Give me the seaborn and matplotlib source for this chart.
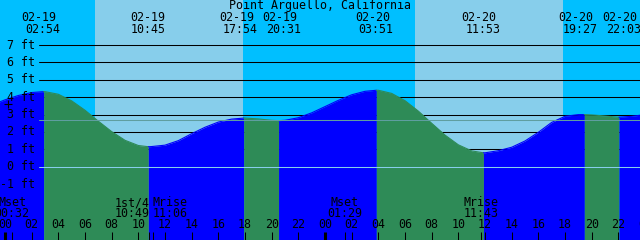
import numpy as np
import pandas as pd
import matplotlib
matplotlib.use("Agg")
import matplotlib.pyplot as plt
import matplotlib.transforms as mtransforms
import seaborn as sns

# ---------------- data ----------------
station = "Point Arguello, California"

# hours since 02-19 00:00, tide height in feet
hours = list(range(-1, 49))
tide_ft = [3.55, 3.85, 4.10, 4.27, 4.32, 4.17, 3.79, 3.25, 2.62, 2.02,
           1.52, 1.22, 1.16, 1.24, 1.50, 1.90, 2.27, 2.57, 2.74, 2.80,
           2.75, 2.67, 2.67, 2.82, 3.10, 3.46, 3.82, 4.14, 4.34, 4.40,
           4.22, 3.80, 3.20, 2.50, 1.82, 1.26, 0.91, 0.80, 0.92, 1.12,
           1.48, 1.98, 2.55, 2.90, 3.00, 2.98, 2.92, 2.85, 2.90, 3.00]

hilo_hours = [2.9, 10.75, 17.9, 20.517, 27.85, 35.883, 43.45, 46.05]
hilo_ft = [4.32, 1.15, 2.80, 2.65, 4.40, 0.80, 3.00, 2.85]
hilo_kind = ["H", "L", "H", "L", "H", "L", "H", "L"]
hilo_date = ["02-19", "02-19", "02-19", "02-19", "02-20", "02-20", "02-20", "02-20"]
hilo_time = ["02:54", "10:45", "17:54", "20:31", "03:51", "11:53", "19:27", "22:03"]

sunrise_hours = [6.75, 30.75]
sunset_hours = [17.87, 41.85]

moon_hours = [0.533, 10.817, 11.1, 25.483, 35.717]
moon_names = ["Mset", "1st/4", "Mrise", "Mset", "Mrise"]
moon_times = ["00:32", "10:49", "11:06", "01:29", "11:43"]

levels_ft = [7, 6, 5, 4, 3, 2, 1, 0, -1]
level_labels = ["7 ft", "6 ft", "5 ft", "4 ft", "3 ft", "2 ft", "1 ft", "0 ft", "-1 ft"]
msl_ft = 2.69

tick_hours = list(range(0, 49, 2))
tick_labels = ["%02d" % (h % 24) for h in tick_hours]

# ---------------- style ----------------
NIGHT = "#00BFFF"
DAY = "#87CEEB"
FLOOD = "#0000FF"
EBB = "#2E8B57"
MSL_C = "#5F9EA0"
DATUM_C = "#87CEEB"
FONT = dict(family="DejaVu Sans Mono", size=8.4, color="black")

W, H = 640, 240
XMIN, XMAX = -0.375, 47.625
YMIN, YMAX = -4.22, 9.597

sns.set_style("white")
fig = plt.figure(figsize=(6.4, 2.4), dpi=100)
ax = fig.add_axes([0, 0, 1, 1])
ax.set_xlim(XMIN, XMAX)
ax.set_ylim(YMIN, YMAX)
ax.axis("off")

def fy(ypx):
    return 1 - ypx / H

def fx(xpx):
    return xpx / W

# background night/day
ax.axvspan(XMIN, XMAX, color=NIGHT, lw=0, zorder=0)
for sr, ss in zip(sunrise_hours, sunset_hours):
    ax.axvspan(sr, ss, color=DAY, lw=0, zorder=0)

# level lines (behind the water)
for lv in levels_ft:
    if lv > 0:
        ax.axhline(lv, xmin=fx(39), xmax=1, color="black", lw=0.75, zorder=1)

# tide fill, coloured by flood / ebb
df = pd.DataFrame({"h": hours + hilo_hours, "ft": tide_ft + hilo_ft}).sort_values("h")
bounds = [hours[0]] + hilo_hours + [hours[-1]]
for i in range(len(bounds) - 1):
    a, b = bounds[i], bounds[i + 1]
    seg = df[(df.h >= a) & (df.h <= b)]
    rising = (i < len(hilo_kind) and hilo_kind[i] == "H") or i == len(hilo_kind)
    c = FLOOD if rising else EBB
    ax.fill_between(seg.h, seg.ft, YMIN - 1, color=c, lw=0, zorder=2)
    sns.lineplot(x=seg.h.values, y=seg.ft.values, color=c, lw=0.8, ax=ax,
                 zorder=2, estimator=None, sort=False)

# mean sea level and datum
ax.axhline(msl_ft, xmin=fx(39), xmax=1, color=MSL_C, lw=0.75, zorder=3)
ax.axhline(0, xmin=fx(39), xmax=1, color=DATUM_C, lw=0.75, zorder=3)

# y labels
ytr = mtransforms.blended_transform_factory(ax.transAxes, ax.transData)
for lv, lab in zip(levels_ft, level_labels):
    ax.text(fx(35), lv, lab, transform=ytr, ha="right", va="center", zorder=5, **FONT)

# plus mark
ax.plot([fx(7.5)], [fy(103.5)], marker="+", markersize=6, mew=0.8, color="black",
        transform=ax.transAxes, zorder=5)

xtr = ax.get_xaxis_transform()
# title
ax.text(0.5, fy(6), station, transform=ax.transAxes, ha="center", va="center", zorder=5, **FONT)

# high/low labels (pixel nudges keep neighbouring labels apart, as in the original)
date_dx = [-4.7, -0.8, -6.7, 1.5, -3.8, -4.4, -8.3, 1.0]
time_dx = [-0.7, 0.0, -3.7, 5.5, -0.3, -0.4, -4.3, 5.0]
for h, d, t, ddx, tdx in zip(hilo_hours, hilo_date, hilo_time, date_dx, time_dx):
    off_d = mtransforms.offset_copy(xtr, fig=fig, x=ddx, y=0, units="dots")
    off_t = mtransforms.offset_copy(xtr, fig=fig, x=tdx, y=0, units="dots")
    ax.text(h, fy(17.5), d, transform=off_d, ha="center", va="center", zorder=5, **FONT)
    ax.text(h, fy(29.5), t, transform=off_t, ha="center", va="center", zorder=5, **FONT)

# moon labels
moon_ha = ["center", "right", "left", "center", "center"]
for h, n, t, ha in zip(moon_hours, moon_names, moon_times, moon_ha):
    ax.text(h, fy(202.5), n, transform=xtr, ha=ha, va="center", zorder=5, **FONT)
    ax.text(h, fy(213.5), t, transform=xtr, ha=ha, va="center", zorder=5, **FONT)
    ax.vlines(h, 0, 8 / H, transform=xtr, color="black", lw=0.75, zorder=5)

# hour ticks
for h, lab in zip(tick_hours, tick_labels):
    ax.text(h, fy(225), lab, transform=xtr, ha="center", va="center", zorder=5, **FONT)
    lw = 2.2 if h % 24 == 0 else 0.75
    ax.vlines(h, 0, 8 / H, transform=xtr, color="black", lw=lw, zorder=5)

fig.savefig("out.png", dpi=100)
